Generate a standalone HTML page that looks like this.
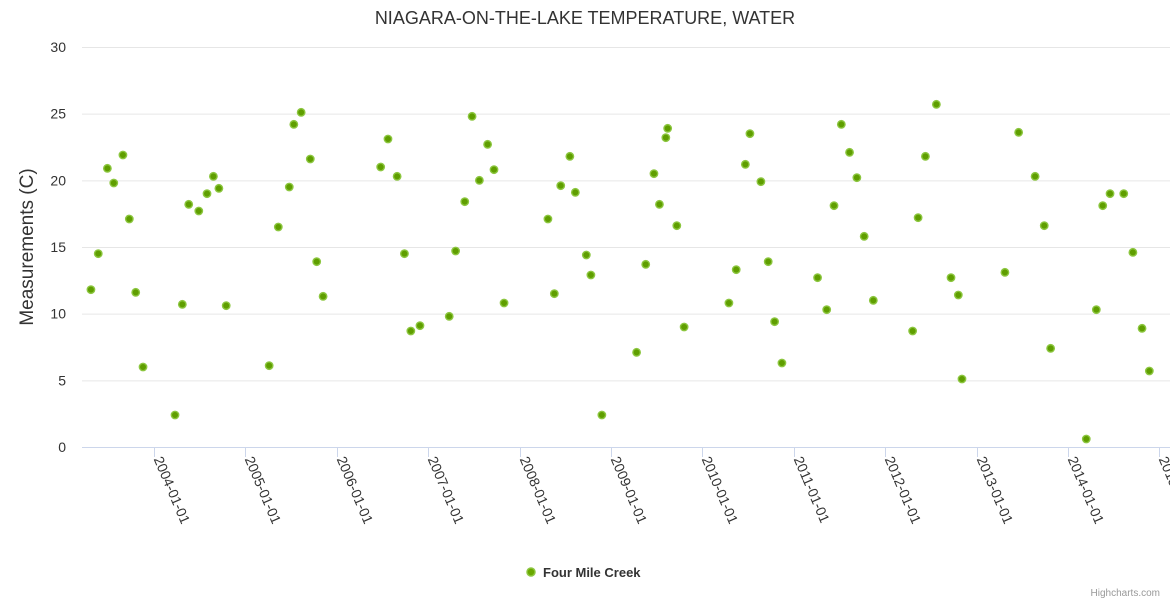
<!DOCTYPE html>
<html><head><meta charset="utf-8"><style>
body{margin:0;background:#fff;}
svg{display:block;font-family:"Liberation Sans","DejaVu Sans",sans-serif;}
</style></head><body>
<svg id="chart" width="1170" height="600">
<text x="585" y="24" text-anchor="middle" font-size="18" fill="#333">NIAGARA-ON-THE-LAKE TEMPERATURE, WATER</text>
<text transform="translate(33,247) rotate(-90)" text-anchor="middle" font-size="19" fill="#333">Measurements (C)</text>
<g id="grid"></g><g id="xaxis"></g><g id="yaxis"></g><g id="points"></g>
<g>
<circle cx="531" cy="572" r="4" fill="#6aa800" stroke="#8cc63f" stroke-width="1.5"/>
<text x="543" y="577" font-size="13" font-weight="bold" fill="#333">Four Mile Creek</text>
</g>
<text x="1160" y="596" text-anchor="end" font-size="10" fill="#999">Highcharts.com</text>
</svg>
<script>
const dates=[2003.31,2003.39,2003.49,2003.56,2003.66,2003.73,2003.80,2003.88,2004.23,2004.31,2004.38,2004.49,2004.58,2004.65,2004.71,2004.79,2005.26,2005.36,2005.48,2005.53,2005.61,2005.71,2005.78,2005.85,2006.48,2006.56,2006.66,2006.74,2006.81,2006.91,2007.23,2007.30,2007.40,2007.48,2007.56,2007.65,2007.72,2007.83,2008.31,2008.38,2008.45,2008.55,2008.61,2008.73,2008.78,2008.90,2009.28,2009.38,2009.47,2009.53,2009.60,2009.62,2009.72,2009.80,2010.29,2010.37,2010.47,2010.52,2010.64,2010.72,2010.79,2010.87,2011.26,2011.36,2011.44,2011.52,2011.61,2011.69,2011.77,2011.87,2012.30,2012.36,2012.44,2012.56,2012.72,2012.80,2012.84,2013.31,2013.46,2013.64,2013.74,2013.81,2014.20,2014.31,2014.38,2014.46,2014.61,2014.71,2014.81,2014.89];
const temps=[11.8,14.5,20.9,19.8,21.9,17.1,11.6,6.0,2.4,10.7,18.2,17.7,19.0,20.3,19.4,10.6,6.1,16.5,19.5,24.2,25.1,21.6,13.9,11.3,21.0,23.1,20.3,14.5,8.7,9.1,9.8,14.7,18.4,24.8,20.0,22.7,20.8,10.8,17.1,11.5,19.6,21.8,19.1,14.4,12.9,2.4,7.1,13.7,20.5,18.2,23.2,23.9,16.6,9.0,10.8,13.3,21.2,23.5,19.9,13.9,9.4,6.3,12.7,10.3,18.1,24.2,22.1,20.2,15.8,11.0,8.7,17.2,21.8,25.7,12.7,11.4,5.1,13.1,23.6,20.3,16.6,7.4,0.6,10.3,18.1,19.0,19.0,14.6,8.9,5.7];
const yTicks=[0,5,10,15,20,25,30];
const xTickYears=[2004,2005,2006,2007,2008,2009,2010,2011,2012,2013,2014,2015];
const NS="http://www.w3.org/2000/svg";
function xs(v){return 154+(v-2004)*91.4;}
function ys(v){return 447-v*(400/30);}
function mk(tag,attrs,parent){const e=document.createElementNS(NS,tag);for(const k in attrs)e.setAttribute(k,attrs[k]);parent.appendChild(e);return e;}
const grid=document.getElementById('grid'),yax=document.getElementById('yaxis'),xax=document.getElementById('xaxis'),pts=document.getElementById('points');
yTicks.forEach(t=>{
  if(t>0){const l=mk('line',{x1:82,x2:1170,y1:ys(t)+0.5,y2:ys(t)+0.5,stroke:'#e6e6e6'},grid);
  
  }
  const tx=mk('text',{x:66,y:ys(t)+5,'text-anchor':'end','font-size':14,fill:'#333'},yax);
  tx.textContent=t;
  
  
});
const ax=mk('line',{x1:82,x2:1170,y1:447.5,y2:447.5,stroke:'#ccd6eb'},xax);


xTickYears.forEach(y=>{
  const x=Math.round(xs(y))+0.5;
  const tk=mk('line',{x1:x,x2:x,y1:447,y2:457,stroke:'#ccd6eb'},xax);
  
  
  const tx=mk('text',{transform:'translate('+(x-1)+',459) rotate(67)','font-size':14,fill:'#333'},xax);
  tx.textContent=y+'-01-01';
  
  
});
dates.forEach((d,i)=>{
  const c=mk('circle',{cx:xs(d),cy:ys(temps[i]),r:3.7,fill:'#5f9e00',stroke:'#8cc63f','stroke-width':1.4},pts);
  
  
});
</script>
</body></html>
